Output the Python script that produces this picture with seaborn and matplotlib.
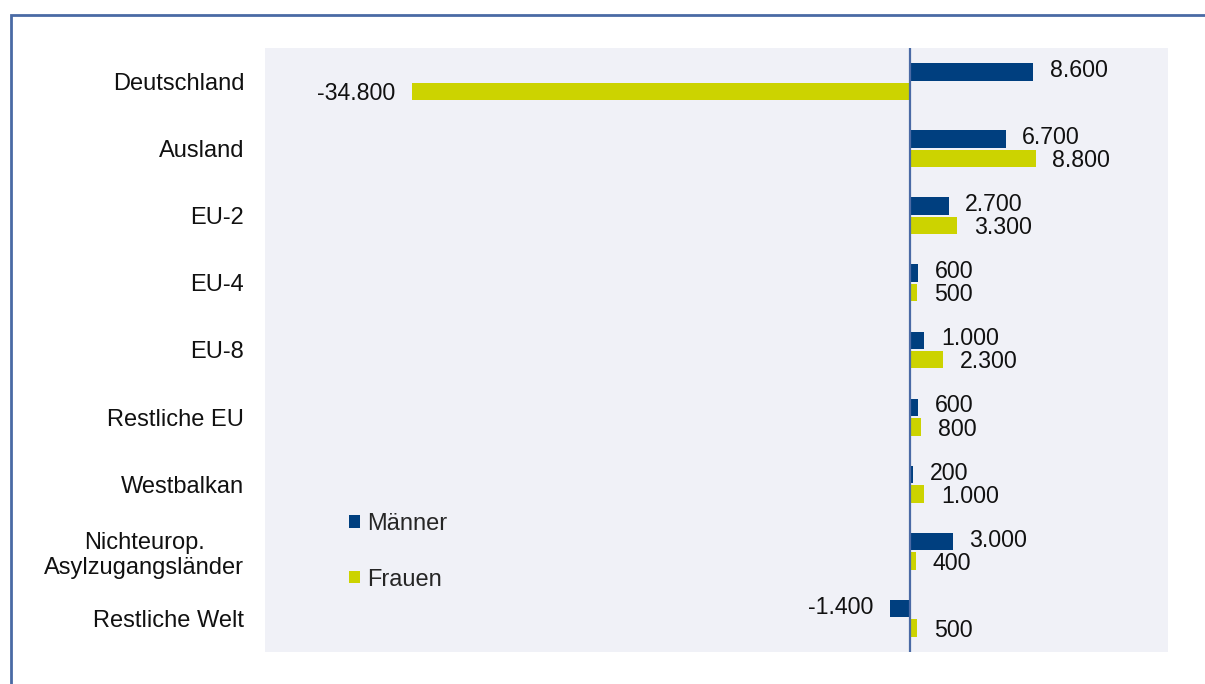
import matplotlib
matplotlib.use("Agg")
import matplotlib.pyplot as plt
import seaborn as sns
import pandas as pd
from matplotlib.patches import Rectangle

categories = ["Deutschland", "Ausland", "EU-2", "EU-4", "EU-8", "Restliche EU",
              "Westbalkan", "Nichteurop.\nAsylzugangsländer", "Restliche Welt"]
maenner = [8600, 6700, 2700, 600, 1000, 600, 200, 3000, -1400]
frauen = [-34800, 8800, 3300, 500, 2300, 800, 1000, 400, 500]
series = ["Männer", "Frauen"]
colors = {"Männer": "#003F7F", "Frauen": "#CCD300"}

df = pd.DataFrame({
    "Kategorie": categories * 2,
    "Wert": maenner + frauen,
    "Geschlecht": [series[0]] * len(categories) + [series[1]] * len(categories),
})

sns.set_theme(style="white")
plt.rcParams["font.family"] = ["Liberation Sans", "DejaVu Sans"]

FS = 17
W, H = 1205, 684
fig = plt.figure(figsize=(W / 100, H / 100), dpi=100)
ax = fig.add_axes([265 / W, 1 - 652 / H, (1168 - 265) / W, (652 - 48) / H])
ax.set_facecolor("#F0F1F7")

sns.barplot(data=df, y="Kategorie", x="Wert", hue="Geschlecht", order=categories,
            hue_order=series, palette=colors, orient="h", width=0.58, gap=0.1,
            linewidth=0, saturation=1, ax=ax)

ax.set_xlim(-45100, 18050)
ax.set_ylim(len(categories) - 0.5, -0.5)
ax.axvline(0, color="#4A6AA5", lw=1.6, zorder=5)

shifts = [1.0, -1.6]  # vertical nudge (points) for Männer / Frauen labels
for c, dy in zip(ax.containers, shifts):
    anns = ax.bar_label(c, labels=[f"{v:,.0f}".replace(",", ".") for v in c.datavalues],
                        padding=12, fontsize=FS - 0.3, color="#111111")
    for a in anns:
        x0, y0 = a.xyann
        a.xyann = (x0, y0 + dy)

ax.set_xlabel("")
ax.set_ylabel("")
ax.set_xticks([])
ax.tick_params(axis="y", length=0, pad=15, labelsize=FS)
for lab in ax.get_yticklabels():
    lab.set_multialignment("center")
    lab.set_color("#111111")
for s in ax.spines.values():
    s.set_visible(False)

leg = ax.legend(loc="upper left", bbox_to_anchor=(349 / W, 1 - 513 / H),
                bbox_transform=fig.transFigure, frameon=False, fontsize=FS,
                handlelength=0.45, handleheight=0.45, handletextpad=0.3,
                labelspacing=1.42, borderpad=0, borderaxespad=0)

fig.patches.append(Rectangle((10.5 / W, -0.1), 1.2, 1 - 14.5 / H + 0.1,
                             transform=fig.transFigure, fill=False,
                             edgecolor="#4A6AA5", lw=2, zorder=0))

fig.savefig("out.png", dpi=100)
